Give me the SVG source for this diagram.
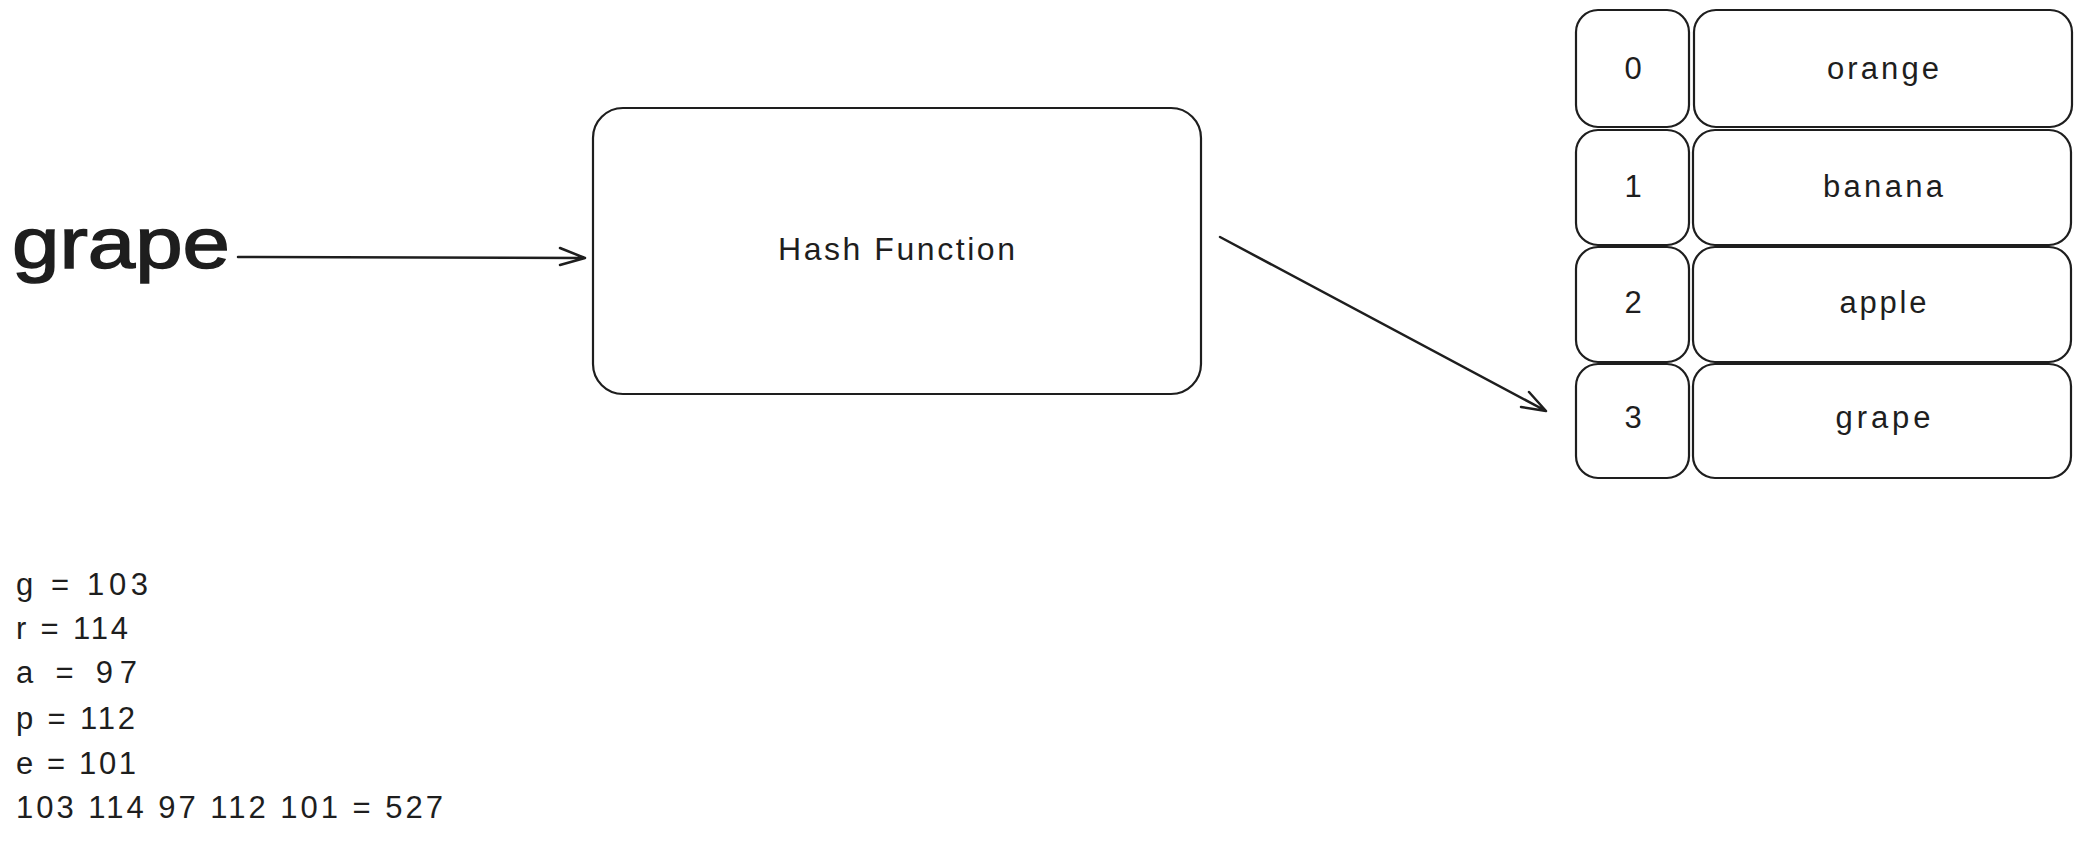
<svg xmlns="http://www.w3.org/2000/svg" width="2085" height="842" viewBox="0 0 2085 842">
<defs>
<style>
.box{fill:none;stroke:#1e1e1e;stroke-width:2.2;}
.ln{fill:none;stroke:#1e1e1e;stroke-width:2.5;stroke-linecap:round;stroke-linejoin:round;}
text{font-family:"Liberation Sans",Arial,sans-serif;fill:#1e1e1e;}
.cell{font-size:31px;text-anchor:middle;}
.calc{font-size:31px;}
</style>
</defs>
<rect width="2085" height="842" fill="#ffffff"/>
<g id="input-grape"><text x="12" y="268" font-size="72" stroke="#1e1e1e" stroke-width="1.5" textLength="218" lengthAdjust="spacingAndGlyphs">grape</text></g>
<g id="hash-function">
<rect class="box" x="593" y="108" width="608" height="286" rx="30"/>
<text x="778" y="260" font-size="32" textLength="237">Hash Function</text>
</g>
<g id="table">
<g id="idx0"><rect class="box" x="1576" y="10" width="113" height="117" rx="22"/><text class="cell" x="1633" y="79">0</text></g>
<g id="val0"><rect class="box" x="1694" y="10" width="378" height="117" rx="22"/><text class="cell" x="1883" y="79" textLength="112">orange</text></g>
<g id="idx1"><rect class="box" x="1576" y="130" width="113" height="115" rx="22"/><text class="cell" x="1633" y="197">1</text></g>
<g id="val1"><rect class="box" x="1693" y="130" width="378" height="115" rx="22"/><text class="cell" x="1883" y="197" textLength="120">banana</text></g>
<g id="idx2"><rect class="box" x="1576" y="247" width="113" height="115" rx="22"/><text class="cell" x="1633" y="313">2</text></g>
<g id="val2"><rect class="box" x="1693" y="247" width="378" height="115" rx="22"/><text class="cell" x="1883" y="313" textLength="87">apple</text></g>
<g id="idx3"><rect class="box" x="1576" y="364" width="113" height="114" rx="22"/><text class="cell" x="1633" y="428">3</text></g>
<g id="val3"><rect class="box" x="1693" y="364" width="378" height="114" rx="22"/><text class="cell" x="1883" y="428" textLength="95">grape</text></g>
</g>
<g id="calc">
<text class="calc" x="16" y="595" textLength="132">g = 103</text>
<text class="calc" x="16" y="639" textLength="112">r = 114</text>
<text class="calc" x="16" y="683" textLength="121">a = 97</text>
<text class="calc" x="16" y="729" textLength="119">p = 112</text>
<text class="calc" x="16" y="774" textLength="120">e = 101</text>
<text class="calc" x="16" y="818" textLength="427">103 114 97 112 101 = 527</text>
</g>
<g id="connectors">
<path class="ln" d="M238 257 L585 258 M560 248 L585 258 L560 265"/>
<path class="ln" d="M1220 237 L1546 411 M1529 392 L1546 411 L1521 407"/>
</g>
</svg>
